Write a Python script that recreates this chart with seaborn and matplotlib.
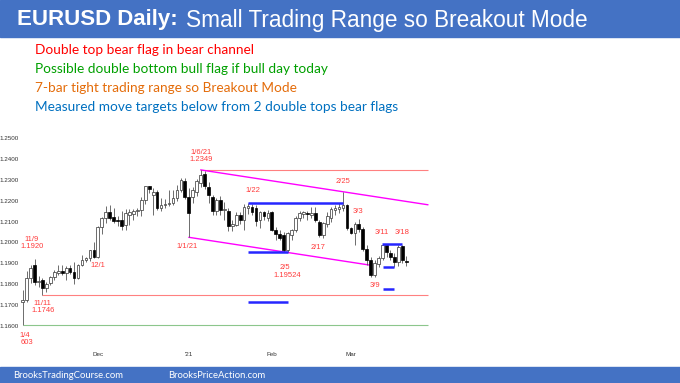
import numpy as np
import pandas as pd
import matplotlib
matplotlib.use("Agg")
import matplotlib.pyplot as plt
from matplotlib.patches import Rectangle
import seaborn as sns

# daily bars, 11/4/20 .. 3/19/21 (weekdays)
dates = pd.bdate_range("2020-11-04", "2021-03-19")

opens = [1.1715, 1.1724, 1.1828, 1.1892, 1.1811, 1.1819, 1.1779, 1.1803, 1.1835, 1.1855,
         1.1862, 1.1852, 1.1876, 1.1858, 1.1830, 1.1890, 1.1915, 1.1925, 1.1962, 1.1930,
         1.2074, 1.2116, 1.2148, 1.2124, 1.2110, 1.2108, 1.2084, 1.2130, 1.2135, 1.2150,
         1.2156, 1.2204, 1.2270, 1.2228, 1.2244, 1.2164, 1.2180, 1.2183, 1.2190, 1.2215,
         1.2250, 1.2298, 1.2220, 1.2220, 1.2245, 1.2288, 1.2330, 1.2268, 1.2220, 1.2150,
         1.2205, 1.2156, 1.2150, 1.2078, 1.2085, 1.2130, 1.2108, 1.2165, 1.2170, 1.2164,
         1.2110, 1.2148, 1.2120, 1.2145, 1.2060, 1.2040, 1.2035, 1.1962, 1.2036, 1.2058,
         1.2116, 1.2135, 1.2140, 1.2132, 1.2140, 1.2100, 1.2036, 1.2090, 1.2120, 1.2155,
         1.2160, 1.2165, 1.2180, 1.2068, 1.2048, 1.2090, 1.2065, 1.1968, 1.1915, 1.1846,
         1.1895, 1.1925, 1.1988, 1.1950, 1.1928, 1.1905, 1.1985, 1.1912]
highs = [1.1771, 1.1862, 1.1892, 1.1920, 1.1838, 1.1828, 1.1812, 1.1840, 1.1868, 1.1894,
         1.1890, 1.1885, 1.1891, 1.1906, 1.1897, 1.1942, 1.1932, 1.1965, 1.2004, 1.2077,
         1.2122, 1.2176, 1.2178, 1.2167, 1.2125, 1.2150, 1.2162, 1.2162, 1.2160, 1.2165,
         1.2220, 1.2273, 1.2273, 1.2260, 1.2250, 1.2213, 1.2210, 1.2250, 1.2250, 1.2276,
         1.2310, 1.2310, 1.2260, 1.2265, 1.2305, 1.2349, 1.2343, 1.2290, 1.2230, 1.2216,
         1.2222, 1.2196, 1.2165, 1.2110, 1.2145, 1.2145, 1.2184, 1.2191, 1.2185, 1.2180,
         1.2150, 1.2150, 1.2155, 1.2150, 1.2075, 1.2060, 1.2050, 1.2052, 1.2065, 1.2125,
         1.2150, 1.2150, 1.2150, 1.2170, 1.2172, 1.2110, 1.2100, 1.2145, 1.2170, 1.2180,
         1.2190, 1.2244, 1.2185, 1.2075, 1.2100, 1.2113, 1.2075, 1.1990, 1.1930, 1.1915,
         1.1935, 1.1990, 1.1993, 1.1965, 1.1950, 1.1990, 1.1990, 1.1935]
lows = [1.1603, 1.1716, 1.1803, 1.1796, 1.1785, 1.1746, 1.1760, 1.1795, 1.1818, 1.1845,
        1.1845, 1.1820, 1.1850, 1.1800, 1.1825, 1.1885, 1.1905, 1.1910, 1.1924, 1.1925,
        1.2040, 1.2095, 1.2110, 1.2093, 1.2080, 1.2059, 1.2060, 1.2082, 1.2108, 1.2125,
        1.2128, 1.2187, 1.2240, 1.2132, 1.2158, 1.2153, 1.2167, 1.2175, 1.2178, 1.2200,
        1.2245, 1.2210, 1.2025, 1.2190, 1.2225, 1.2265, 1.2255, 1.2190, 1.2133, 1.2132,
        1.2134, 1.2110, 1.2055, 1.2053, 1.2080, 1.2088, 1.2060, 1.2135, 1.2130, 1.2080,
        1.2068, 1.2110, 1.2105, 1.2055, 1.2010, 1.2010, 1.1955, 1.1952, 1.2010, 1.2050,
        1.2105, 1.2118, 1.2110, 1.2120, 1.2100, 1.2025, 1.2022, 1.2075, 1.2100, 1.2130,
        1.2140, 1.2150, 1.2060, 1.2040, 1.1990, 1.2050, 1.1960, 1.1892, 1.1836, 1.1835,
        1.1880, 1.1915, 1.1930, 1.1915, 1.1883, 1.1888, 1.1900, 1.1885]
closes = [1.1725, 1.1828, 1.1876, 1.1811, 1.1816, 1.1779, 1.1800, 1.1835, 1.1858, 1.1862,
          1.1855, 1.1876, 1.1858, 1.1830, 1.1890, 1.1915, 1.1925, 1.1962, 1.1930, 1.2074,
          1.2116, 1.2148, 1.2116, 1.2105, 1.2102, 1.2079, 1.2140, 1.2145, 1.2152, 1.2156,
          1.2204, 1.2270, 1.2258, 1.2244, 1.2164, 1.2180, 1.2185, 1.2190, 1.2215, 1.2250,
          1.2300, 1.2220, 1.2140, 1.2250, 1.2298, 1.2325, 1.2270, 1.2228, 1.2150, 1.2205,
          1.2156, 1.2160, 1.2080, 1.2090, 1.2130, 1.2110, 1.2170, 1.2175, 1.2145, 1.2105,
          1.2148, 1.2125, 1.2140, 1.2060, 1.2040, 1.2020, 1.1962, 1.2046, 1.2058, 1.2116,
          1.2140, 1.2145, 1.2135, 1.2140, 1.2110, 1.2036, 1.2095, 1.2125, 1.2160, 1.2165,
          1.2172, 1.2182, 1.2068, 1.2048, 1.2090, 1.2065, 1.1968, 1.1915, 1.1846, 1.1900,
          1.1925, 1.1988, 1.1955, 1.1928, 1.1905, 1.1980, 1.1915, 1.1905]

month_labels = ["Dec", "'21", "Feb", "Mar"]
price_ticks = [1.16, 1.17, 1.18, 1.19, 1.20, 1.21, 1.22, 1.23, 1.24, 1.25]

# (text, bar index, price)
bar_labels = [("11/9", 2.3, 1.2015), ("1.1920", 2.3, 1.1979),
              ("11/11", 5.1, 1.1708), ("1.1746", 5.1, 1.1675),
              ("1/4", 0.6, 1.1555), ("603", 1.0, 1.1520),
              ("12/1", 19.1, 1.1888),
              ("1/6/21", 45.1, 1.2433), ("1.2349", 45.1, 1.2399),
              ("1/1/21", 41.5, 1.1979),
              ("1/22", 58.2, 1.2248), ("2/25", 80.9, 1.2295),
              ("2/17", 74.7, 1.1976),
              ("2/5", 66.3, 1.1880), ("1.19524", 66.8, 1.1843),
              ("3/3", 84.7, 1.2151), ("3/11", 90.9, 1.2047),
              ("3/18", 96.0, 1.2047), ("3/9", 89.1, 1.1794)]

# measured move lines: (start bar, end bar, price)
blue_lines = [(57, 81, 1.2191), (57, 67, 1.1954), (57, 67, 1.1715),
              (90.8, 95.8, 1.1993), (91, 94, 1.1883), (91, 94, 1.1775)]

notes = ["Double top bear flag in bear channel",
         "Possible double bottom bull flag if bull day today",
         "7-bar tight trading range so Breakout Mode",
         "Measured move targets below from 2 double tops bear flags"]
note_colors = ["#FF0000", "#00A000", "#E46C0A", "#0070C0"]

df = pd.DataFrame({"date": dates, "open": opens, "high": highs,
                   "low": lows, "close": closes})
df["x"] = np.arange(len(df))
up = df[df["close"] >= df["open"]]
dn = df[df["close"] < df["open"]]

sns.set_theme(style="white")
plt.rcParams['font.family'] = ['Liberation Sans', 'DejaVu Sans']

W, H = 680, 383
fig = plt.figure(figsize=(W / 100, H / 100), dpi=100)
fig.patch.set_facecolor("white")

# banners
fig.patches.append(Rectangle((0, 1 - 37 / H), 1, 37 / H, transform=fig.transFigure,
                             color="#4472C4", zorder=0))
fig.patches.append(Rectangle((0, 0), 1, 16 / H, transform=fig.transFigure,
                             color="#4472C4", zorder=0))
fig.text(17 / W, 1 - 20 / H, "EURUSD Daily:", color="white", fontsize=16,
         fontweight="bold", va="center")
fig.text(186 / W, 1 - 20 / H, "Small Trading Range so Breakout Mode", color="white",
         fontsize=16.3, va="center")
for i, (t, c) in enumerate(zip(notes, note_colors)):
    fig.text(35 / W, 1 - (50 + 19 * i) / H, t, color=c, fontsize=9.8,
             family=["Lato", "DejaVu Sans"], va="center")
fig.text(13 / W, 8 / H, "BrooksTradingCourse.com", color="white", fontsize=6.8,
         family=["Lato", "DejaVu Sans"], va="center")
fig.text(168 / W, 8 / H, "BrooksPriceAction.com", color="white", fontsize=6.8,
         family=["Lato", "DejaVu Sans"], va="center")

ax = fig.add_axes([20 / W, (H - 345) / H, 410 / W, 210 / H])
ax.set_facecolor("none")

# candles
ax.vlines(df["x"], df["low"], df["high"], color="#555555", lw=0.6, zorder=2)
ax.bar(up["x"], up["close"] - up["open"], bottom=up["open"], width=0.68,
       color="white", edgecolor="#333333", linewidth=0.5, zorder=3)
ax.bar(dn["x"], dn["close"] - dn["open"], bottom=dn["open"], width=0.68,
       color="black", edgecolor="black", linewidth=0.5, zorder=3)

# support / resistance
end = 102.5
i_top = int(np.argmax(highs))
i_nov = 5
ax.hlines(highs[i_top], i_top, end, color="#FF8080", lw=0.8, zorder=1)
ax.hlines(lows[i_nov], i_nov, end, color="#FF8080", lw=0.8, zorder=1)
ax.hlines(lows[0], 0, end, color="#8CC68C", lw=0.8, zorder=1)

# bear channel
i_225 = 81
slope = (highs[i_225] - highs[i_top]) / (i_225 - i_top)
ax.plot([i_top, end], [highs[i_top], highs[i_top] + slope * (end - i_top)],
        color="#FF00FF", lw=1.0, zorder=1)
i_11, i_25 = 42, 67
slope2 = (lows[i_25] - lows[i_11]) / (i_25 - i_11)
ax.plot([i_11, 88], [lows[i_11], lows[i_11] + slope2 * (88 - i_11)],
        color="#FF00FF", lw=1.0, zorder=1)

for x0, x1, p in blue_lines:
    ax.hlines(p, x0, x1, color="#2626FF", lw=1.8, zorder=4)

for t, x, p in bar_labels:
    ax.text(x, p, t, color="#FF3B3B", fontsize=5.5, ha="center", va="center",
            clip_on=False)

month_pos = [i for i in range(1, len(dates)) if dates[i].month != dates[i - 1].month]
ax.set_xticks(month_pos)
ax.set_xticklabels(month_labels)
ax.set_yticks(price_ticks)
ax.set_yticklabels([f"{v:.4f}" for v in price_ticks])
ax.tick_params(axis="both", length=0, labelsize=4.5, colors="#333333")
ax.tick_params(axis="y", pad=1)
ax.tick_params(axis="x", pad=5)
ax.set_xlim(-0.68, 103.0)
ax.set_ylim(1.15072, 1.25168)
for s in ax.spines.values():
    s.set_visible(False)
ax.grid(False)

fig.savefig("out.png", dpi=100)
